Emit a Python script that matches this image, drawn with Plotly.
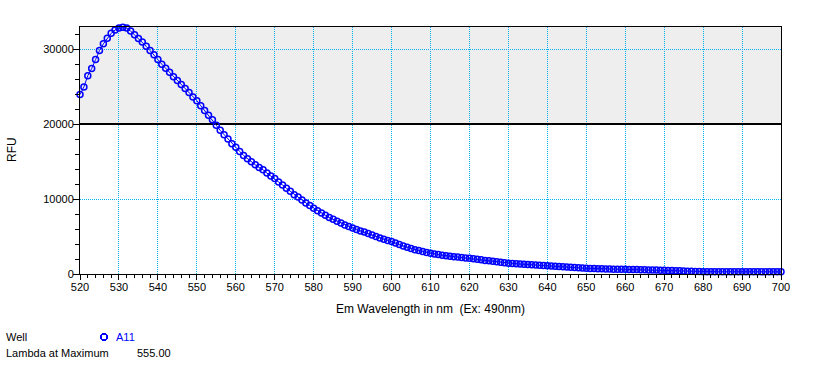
import plotly.graph_objects as go

wavelengths = list(range(520, 701))
rfu = [
    23970, 25000, 26500, 27450, 28650, 29850, 30750, 31500, 32150, 32600,  # 520-529
    32850, 32950, 32850, 32450, 31950, 31450, 31000, 30420, 29850, 29300,  # 530-539
    28650, 28030, 27500, 26950, 26350, 25840, 25310, 24770, 24240, 23660,  # 540-549
    23160, 22490, 21860, 21200, 20620, 19860, 19190, 18610, 18040, 17410,  # 550-559
    16950, 16380, 15840, 15400, 15000, 14600, 14230, 13930, 13480, 13100,  # 560-569
    12750, 12300, 11900, 11450, 11050, 10600, 10300, 9900, 9500, 9150,     # 570-579
    8800, 8450, 8150, 7850, 7550, 7300, 7050, 6800, 6550, 6350,            # 580-589
    6150, 5950, 5750, 5600, 5400, 5200, 5000, 4800, 4650, 4480,            # 590-599
    4330, 4150, 3950, 3750, 3580, 3400, 3250, 3130, 3000, 2880,            # 600-609
    2770, 2680, 2600, 2510, 2440, 2380, 2320, 2260, 2200, 2150,            # 610-619
    2100, 2030, 1960, 1890, 1820, 1760, 1700, 1640, 1580, 1500,            # 620-629
    1430, 1400, 1370, 1330, 1300, 1260, 1230, 1200, 1170, 1140,            # 630-639
    1110, 1070, 1030, 1000, 960, 930, 890, 860, 830, 790,                  # 640-649
    760, 750, 730, 710, 690, 670, 660, 650, 640, 635,                      # 650-659
    630, 615, 600, 590, 575, 560, 550, 540, 525, 510,                      # 660-669
    500, 480, 460, 440, 420, 400, 380, 360, 340, 325,                      # 670-679
    310, 310, 308, 306, 305, 304, 303, 302, 301, 300,                      # 680-689
    300, 299, 298, 297, 296, 295, 294, 293, 292, 291, 290,                 # 690-700
]

x_gridlines = [530, 540, 550, 560, 570, 580, 590, 600, 610, 620, 630, 640, 650, 660, 670, 680, 690]
y_gridlines = [10000, 30000]

well_name = "A11"
lambda_max = "555.00"
threshold = 20000
x_title = "Em Wavelength in nm  (Ex: 490nm)"
y_title = "RFU"

W, H = 819, 391
L, R, T, B = 80, 38, 27, 117
PW, PH = W - L - R, H - T - B


def px(xp):
    return (xp - L) / PW


def py(yp):
    return (H - B - yp) / PH


FONT = "Liberation Sans, Arial, sans-serif"
GRID = "#00b0f0"

fig = go.Figure()
fig.add_trace(go.Scatter(
    x=wavelengths, y=rfu, mode="lines+markers",
    line=dict(color="#0000ff", width=1),
    marker=dict(symbol="circle-open", size=6, color="#0000ff", line=dict(width=1.5, color="#0000ff")),
    cliponaxis=False, showlegend=False, name=well_name,
))

# shaded region above threshold
fig.add_shape(type="rect", xref="paper", yref="y", x0=0, x1=1, y0=threshold, y1=33000,
              fillcolor="#eeeeee", line=dict(width=0), layer="below")
# dotted grid
for gx in x_gridlines:
    fig.add_shape(type="line", xref="x", yref="paper", x0=gx, x1=gx, y0=0, y1=1,
                  line=dict(color=GRID, width=1, dash="1px,1px"), layer="below")
for gy in y_gridlines:
    fig.add_shape(type="line", xref="paper", yref="y", x0=0, x1=1, y0=gy, y1=gy,
                  line=dict(color=GRID, width=1, dash="1px,1px"), layer="below")
# threshold line
fig.add_shape(type="line", xref="paper", yref="y", x0=0, x1=1, y0=threshold, y1=threshold,
              line=dict(color="black", width=2), layer="below")

# y axis title
fig.add_annotation(text=y_title, xref="paper", yref="paper", x=px(12), y=py(150),
                   xanchor="center", yanchor="middle", textangle=-90, showarrow=False,
                   font=dict(family=FONT, size=12, color="black"))

# legend-like info area
fig.add_annotation(text="Well", xref="paper", yref="paper", x=px(4), y=py(337),
                   xanchor="left", yanchor="middle", showarrow=False,
                   font=dict(family=FONT, size=11, color="black"))
fig.add_shape(type="circle", xref="paper", yref="paper",
              x0=px(101), x1=px(107), y0=py(340), y1=py(334),
              line=dict(color="#0000ff", width=1.5))
fig.add_annotation(text=well_name, xref="paper", yref="paper", x=px(114), y=py(337),
                   xanchor="left", yanchor="middle", showarrow=False,
                   font=dict(family=FONT, size=11, color="#0000ff"))
fig.add_annotation(text="Lambda at Maximum", xref="paper", yref="paper", x=px(4), y=py(353),
                   xanchor="left", yanchor="middle", showarrow=False,
                   font=dict(family=FONT, size=11, color="black"))
fig.add_annotation(text=lambda_max, xref="paper", yref="paper", x=px(135), y=py(353),
                   xanchor="left", yanchor="middle", showarrow=False,
                   font=dict(family=FONT, size=11, color="black"))

fig.update_xaxes(
    range=[520, 700], tick0=520, dtick=10, ticks="outside", ticklen=5, tickcolor="black",
    showline=True, linecolor="black", linewidth=1, mirror=True,
    showgrid=False, zeroline=False, tickfont=dict(family=FONT, size=11, color="black"),
    ticklabelstandoff=-2,
    minor=dict(dtick=2, ticks="outside", ticklen=3, tickcolor="black", showgrid=False),
    title=dict(text=x_title, font=dict(family=FONT, size=12, color="black"), standoff=12),
)
fig.update_yaxes(
    range=[0, 33000], tick0=0, dtick=10000, tickformat="d", ticks="outside", ticklen=6,
    tickcolor="black", showline=True, linecolor="black", linewidth=1, mirror=True,
    showgrid=False, zeroline=False, tickfont=dict(family=FONT, size=11, color="black"),
    ticklabelstandoff=-3,
    minor=dict(dtick=2000, ticks="outside", ticklen=4, tickcolor="black", showgrid=False),
)
fig.update_layout(
    width=W, height=H, margin=dict(l=L, r=R, t=T, b=B, autoexpand=False),
    paper_bgcolor="white", plot_bgcolor="white",
    font=dict(family=FONT, size=11, color="black"),
)

post_js = """
document.body.style.margin = '0';
var gd = document.getElementById('{plot_id}');
function crisp() {
  gd.querySelectorAll('.shapelayer path').forEach(function (p) {
    p.style.shapeRendering = 'crispEdges';
  });
}
crisp();
if (gd.on) { gd.on('plotly_afterplot', crisp); }
setTimeout(crisp, 50);
"""
fig.write_html("out.html", config={"displayModeBar": False}, post_script=post_js)
